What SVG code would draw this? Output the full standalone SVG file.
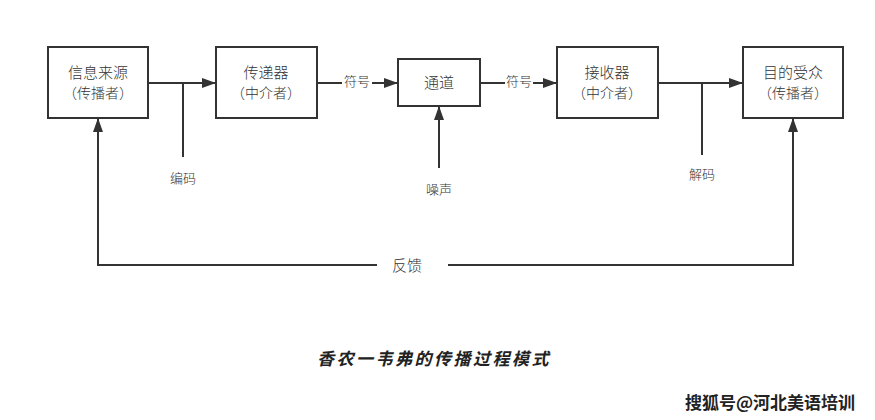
<svg xmlns="http://www.w3.org/2000/svg" width="875" height="420" viewBox="0 0 875 420">
<style>
.box{fill:#fff;stroke:#333;stroke-width:2}
.ln{fill:none;stroke:#333;stroke-width:2}
text{font-family:"Noto Sans CJK SC","Noto Sans",sans-serif;fill:#333;text-anchor:middle}
.t{font-size:15px;font-weight:300}
.p{font-size:14px;font-weight:300}
.s{font-size:13px;font-weight:300}
</style>
<defs>
<marker id="ah" viewBox="0 0 14 10" refX="14" refY="5" markerWidth="14" markerHeight="10" markerUnits="userSpaceOnUse" orient="auto">
<path d="M0,0 L14,5 L0,10 Z" fill="#333"/>
</marker>
</defs>
<rect width="875" height="420" fill="#fff"/>
<g id="connectors">
<path class="ln" d="M148,83 H216" marker-end="url(#ah)"/>
<path class="ln" d="M183,83 V157"/>
<path class="ln" d="M317,83 H342"/>
<path class="ln" d="M372,83 H398" marker-end="url(#ah)"/>
<path class="ln" d="M480,83 H505"/>
<path class="ln" d="M533,83 H557" marker-end="url(#ah)"/>
<path class="ln" d="M439,168 V106" marker-end="url(#ah)"/>
<path class="ln" d="M658,83 H743" marker-end="url(#ah)"/>
<path class="ln" d="M702,83 V155"/>
<path class="ln" d="M377,265 H98 V118" marker-end="url(#ah)"/>
<path class="ln" d="M448,265 H793 V118" marker-end="url(#ah)"/>
<text class="s" x="357" y="86">符号</text>
<text class="s" x="519" y="86">符号</text>
<text class="s" x="183" y="183">编码</text>
<text class="s" x="439" y="194">噪声</text>
<text class="s" x="702" y="179">解码</text>
<text class="t" x="407" y="271">反馈</text>
</g>
<g id="source">
<rect class="box" x="48" y="47" width="100" height="71"/>
<text class="t" x="98" y="78">信息来源</text>
<text class="p" x="98" y="98">（传播者）</text>
</g>
<g id="transmitter">
<rect class="box" x="216" y="47" width="101" height="71"/>
<text class="t" x="266" y="78">传递器</text>
<text class="p" x="266" y="98">（中介者）</text>
</g>
<g id="channel">
<rect class="box" x="398" y="59" width="82" height="47"/>
<text class="t" x="439" y="88">通道</text>
</g>
<g id="receiver">
<rect class="box" x="557" y="47" width="101" height="71"/>
<text class="t" x="607" y="78">接收器</text>
<text class="p" x="607" y="98">（中介者）</text>
</g>
<g id="destination">
<rect class="box" x="743" y="47" width="100" height="71"/>
<text class="t" x="793" y="78">目的受众</text>
<text class="p" x="793" y="98">（传播者）</text>
</g>
<text x="434" y="365" style="font-size:17px;font-weight:bold;font-style:italic;letter-spacing:2.5px;fill:#222">香农一韦弗的传播过程模式</text>
<text x="770" y="409" style="font-size:17px;font-weight:bold;fill:#222;stroke:#fff;stroke-width:2.5;paint-order:stroke">搜狐号@河北美语培训</text>
</svg>
